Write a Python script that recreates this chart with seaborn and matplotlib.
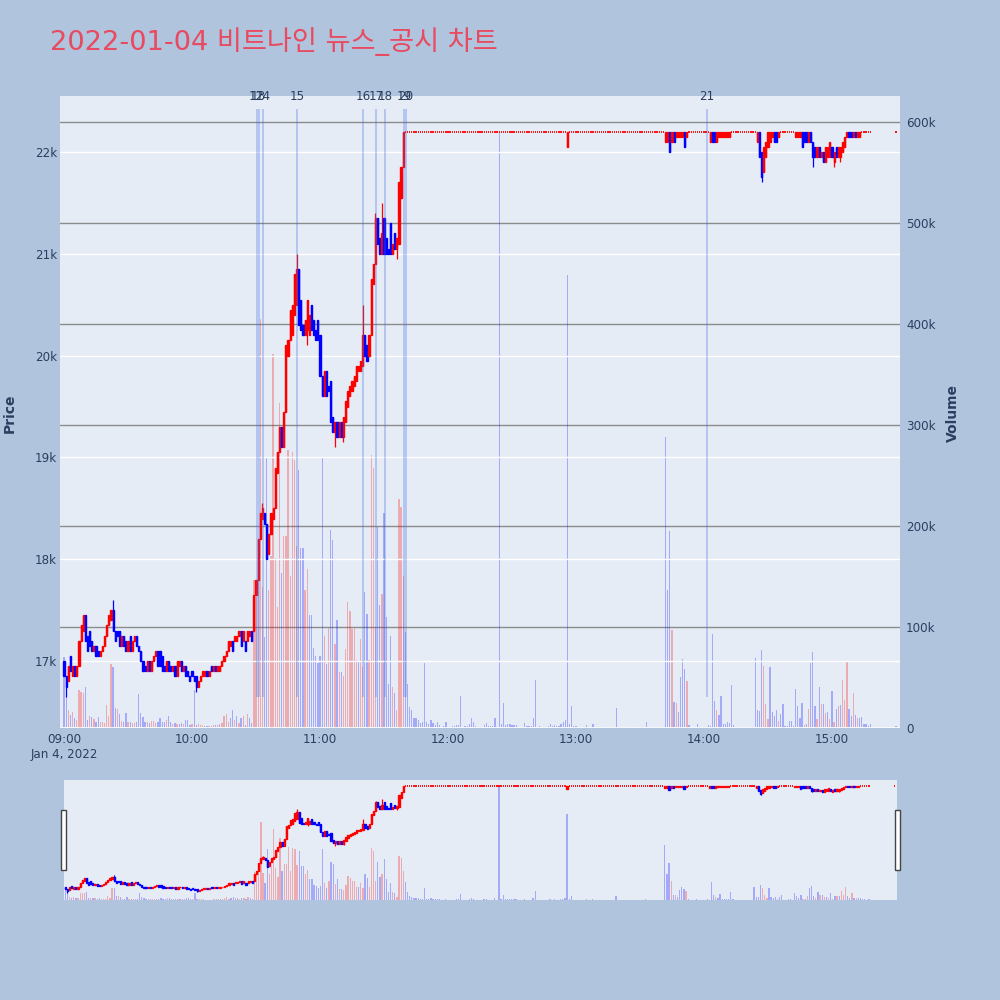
import numpy as np
import pandas as pd
import matplotlib
matplotlib.use("Agg")
import matplotlib.pyplot as plt
import matplotlib.transforms as mtransforms
from matplotlib.patches import Rectangle
import seaborn as sns

TITLE = "2022-01-04 비트나인 뉴스_공시 차트"
FIG_BG = "#B0C4DE"
PLOT_BG = "#E5ECF6"
UP = "#FF0000"
DOWN = "#0000FF"
TEXT = "#2a3f5f"

PREV_CLOSE = 17100
FLAT = 22200

# minutes after 09:00 (one candle per minute, closing auction at 15:30)
minutes = list(range(0, 379)) + [390]

open_am = [
    17000, 16850, 16800, 17050, 16850, 16950, 16850, 16950, 17200, 17300,
    17450, 17250, 17300, 17200, 17100, 17150, 17100, 17050, 17100, 17150,
    17250, 17350, 17400, 17500, 17300, 17300, 17300, 17150, 17250, 17200,
    17100, 17250, 17100, 17200, 17250, 17150, 17100, 17000, 16950, 16900,
    17000, 16900, 17000, 17050, 17100, 17100, 17050, 16950, 16900, 17000,
    16950, 16900, 16950, 16850, 16950, 17000, 16900, 16950, 16900, 16850,
    16900, 16850, 16850, 16750, 16800, 16850, 16850, 16900, 16850, 16950,
    16900, 16950, 16900, 16900, 16950, 17000, 17050, 17100, 17150, 17200,
    17200, 17200, 17250, 17300, 17200, 17200, 17200, 17250, 17300, 17300,
    17650, 17800, 18200, 18400, 18450, 18350, 18050, 18250, 18400, 18500,
    18850, 19050, 19300, 19100, 19450, 20000, 20150, 20200, 20400, 20500,
    20850, 20550, 20300, 20200, 20250, 20200, 20500, 20350, 20250, 20350,
    20200, 19800, 19600, 19850, 19700, 19750, 19400, 19250, 19350, 19200,
    19350, 19200, 19350, 19500, 19600, 19650, 19700, 19750, 19850, 19850,
    19900, 20200, 20100, 20000, 20200, 20700, 20900, 21350, 21150, 21000,
    21350, 21150, 21050, 21300, 21000, 21200, 21050, 21100, 21550, 21850,
]
close_am = [
    16850, 16750, 16950, 16900, 16950, 16850, 16950, 17200, 17350, 17450,
    17200, 17100, 17150, 17100, 17150, 17050, 17050, 17100, 17150, 17250,
    17350, 17450, 17500, 17300, 17200, 17250, 17150, 17250, 17150, 17100,
    17200, 17100, 17200, 17250, 17150, 17100, 17000, 16900, 16900, 17000,
    16900, 17000, 17050, 17100, 16950, 16950, 16900, 16900, 17000, 16900,
    16900, 16950, 16850, 17000, 17000, 16900, 16950, 16850, 16850, 16800,
    16850, 16800, 16750, 16800, 16850, 16900, 16900, 16850, 16900, 16900,
    16950, 16900, 16950, 16950, 17000, 17050, 17100, 17200, 17200, 17100,
    17250, 17250, 17300, 17150, 17300, 17100, 17300, 17300, 17200, 17650,
    17800, 18200, 18450, 18500, 18350, 18000, 18250, 18450, 18500, 18900,
    19050, 19300, 19100, 19450, 20100, 20150, 20450, 20500, 20800, 20850,
    20300, 20250, 20200, 20350, 20550, 20400, 20250, 20200, 20150, 20150,
    19800, 19600, 19850, 19600, 19650, 19350, 19250, 19350, 19200, 19350,
    19200, 19400, 19550, 19650, 19700, 19750, 19800, 19900, 19900, 19950,
    20200, 20000, 19950, 20200, 20750, 20900, 21350, 21100, 21000, 21200,
    21000, 21000, 21000, 21000, 21100, 21050, 21150, 21700, 21850, 22200,
]

# afternoon: mostly at the upper limit, with a few dips
open_pm = ([FLAT] * 76 + [22050] + [FLAT] * 45
           + [22100, 22100, 22200, 22100, 22200, 22150, 22150, 22150, 22150, 22200, 22150]
           + [FLAT] * 10
           + [22100, 22200, 22200, 22100, 22150, 22150, 22150, 22150, 22150, 22150]
           + [FLAT] * 12
           + [22100, 22200, 22000, 21800, 21950, 22050, 22100, 22150, 22200, 22200, 22150]
           + [FLAT] * 7
           + [22150, 22150, 22150, 22200, 22200, 22200, 22100, 22200, 22100, 22050,
              21950, 22050, 21950, 22000, 21900, 21950, 21950, 22050, 21900, 22050,
              21950, 21950, 22000, 22050, 22150, 22200, 22200, 22150, 22200, 22150, 22150]
           + [FLAT] * 5 + [FLAT])
close_pm = ([FLAT] * 76 + [22200] + [FLAT] * 45
            + [22200, 22200, 22000, 22200, 22100, 22200, 22200, 22200, 22200, 22050, 22200]
            + [FLAT] * 10
            + [22200, 22100, 22100, 22200, 22200, 22200, 22200, 22200, 22200, 22200]
            + [FLAT] * 12
            + [22200, 21950, 21750, 22050, 22100, 22200, 22200, 22200, 22100, 22100, 22200]
            + [FLAT] * 7
            + [22200, 22200, 22200, 22050, 22100, 22100, 22200, 22100, 21950, 21950,
               22050, 21950, 22000, 21900, 22050, 22050, 22100, 21950, 22000, 21950,
               22050, 22050, 22100, 22150, 22200, 22150, 22150, 22200, 22150, 22200, 22200]
            + [FLAT] * 5 + [FLAT])

# wick extremes that reach past the candle body
wick_high = {23: 17600, 93: 18550, 109: 21000, 140: 20500, 146: 21400, 149: 21500}
wick_low = {1: 16650, 62: 16700, 114: 20100, 127: 19100, 131: 19150, 156: 20950,
            327: 21700, 351: 21850, 361: 21850, 364: 21900}

volume_am_k = [
    70, 45, 18, 13, 16, 10, 8, 38, 36, 35,
    41, 8, 12, 11, 9, 6, 11, 6, 6, 5,
    23, 12, 63, 60, 20, 19, 14, 7, 6, 15,
    6, 6, 5, 5, 6, 34, 15, 11, 6, 6,
    5, 7, 7, 5, 6, 10, 6, 6, 8, 12,
    6, 4, 5, 4, 4, 5, 4, 8, 8, 3,
    4, 38, 3, 4, 3, 3, 2, 2, 2, 2,
    3, 3, 3, 4, 5, 12, 14, 6, 10, 18,
    8, 12, 5, 10, 12, 3, 14, 10, 5, 147,
    130, 180, 405, 140, 90, 267, 137, 170, 370, 168,
    120, 322, 153, 190, 190, 275, 150, 273, 265, 180,
    255, 178, 178, 137, 157, 112, 112, 79, 71, 64,
    71, 267, 91, 63, 99, 196, 186, 83, 107, 55,
    55, 51, 78, 125, 116, 98, 99, 67, 66, 88,
    60, 135, 113, 67, 270, 257, 100, 199, 122, 133,
    213, 110, 44, 91, 41, 35, 18, 227, 219, 150,
]
volume_pm_k = [
    95, 44, 21, 18, 10, 10, 8, 5, 6, 64,
    6, 4, 8, 5, 3, 6, 3, 1, 2, 6,
    1, 1, 2, 2, 3, 3, 32, 1, 2, 2,
    4, 10, 6, 2, 1, 1, 1, 3, 5, 2,
    2, 2, 10, 1, 590, 4, 25, 3, 4, 4,
    3, 3, 3, 1, 1, 1, 5, 2, 2, 2,
    10, 48, 1, 2, 1, 1, 1, 2, 4, 2,
    3, 2, 2, 4, 6, 8, 448, 4, 22, 2,
    2, 1, 1, 1, 1, 3, 1, 1, 4, 1,
    1, 1, 1, 1, 1, 1, 1, 1, 1, 20,
    1, 1, 1, 1, 1, 1, 1, 1, 1, 1,
    1, 1, 1, 6, 1, 1, 1, 1, 1, 1,
    1, 1, 288, 137, 195, 97, 26, 25, 16, 50,
    68, 58, 47, 3, 1, 1, 1, 4, 1, 1,
    1, 1, 3, 2, 93, 27, 18, 13, 32, 4,
    4, 6, 5, 43, 3, 1, 1, 1, 1, 1,
    1, 1, 1, 1, 69, 18, 17, 77, 61, 24,
    9, 60, 16, 12, 18, 7, 14, 24, 2, 2,
    7, 7, 2, 39, 22, 10, 25, 3, 4, 19,
    64, 75, 22, 9, 41, 24, 24, 15, 16, 9,
    37, 6, 19, 22, 23, 48, 28, 66, 19, 12,
    35, 13, 10, 10, 11, 4, 4, 2, 4,
    2,
]

# news / disclosure events (minutes after 09:00)
event_minutes = [90.3, 91.2, 93.4, 109.2, 140.2, 146.3, 150.5, 159.4, 160.3, 301.4]
event_labels = ["12", "13", "14", "15", "16", "17", "18", "19", "20", "21"]

x_ticks = [0, 60, 120, 180, 240, 300, 360]
x_ticklabels = ["09:00\nJan 4, 2022", "10:00", "11:00", "12:00", "13:00", "14:00", "15:00"]
price_ticks = [17000, 18000, 19000, 20000, 21000, 22000]
volume_ticks = [0, 100000, 200000, 300000, 400000, 500000, 600000]


def main():
    sns.set_theme(style="darkgrid")
    plt.rcParams["font.family"] = ["DejaVu Sans", "Noto Sans CJK KR"]

    opens = np.array(open_am + open_pm, dtype=float)
    closes = np.array(close_am + close_pm, dtype=float)
    x = np.array(minutes)
    highs = np.maximum(opens, closes)
    lows = np.minimum(opens, closes)
    for i, m in enumerate(minutes):
        if m in wick_high:
            highs[i] = wick_high[m]
        if m in wick_low:
            lows[i] = wick_low[m]
    volume = np.array(volume_am_k + volume_pm_k, dtype=float) * 1000

    prev = np.concatenate([[PREV_CLOSE], closes[:-1]])
    vol_dir = np.where(closes > prev, "up", "down")

    # plotly-like candle direction: doji inherits from previous close / direction
    candle_up = []
    last = True
    for o, c, p in zip(opens, closes, prev):
        if c > o:
            last = True
        elif c < o:
            last = False
        elif c > p:
            last = True
        elif c < p:
            last = False
        candle_up.append(last)
    candle_colors = np.array([UP if u else DOWN for u in candle_up])
    body_lo = np.minimum(opens, closes)
    body_h = np.abs(closes - opens)
    is_doji = body_h == 0

    vol_df = pd.DataFrame({"minute": x, "volume": volume, "dir": vol_dir})

    def draw_volume(ax):
        sns.histplot(data=vol_df, x="minute", weights="volume", hue="dir",
                     hue_order=["up", "down"], palette={"up": UP, "down": DOWN},
                     discrete=True, shrink=0.6, alpha=0.28, linewidth=0,
                     legend=False, ax=ax)

    def draw_candles(ax):
        ax.vlines(x, lows, highs, colors=candle_colors, linewidth=0.9, zorder=3)
        ax.bar(x[~is_doji], body_h[~is_doji], bottom=body_lo[~is_doji], width=0.55,
               color=candle_colors[~is_doji], edgecolor=candle_colors[~is_doji],
               linewidth=1.0, zorder=4)
        # flat candles (open == close) are short horizontal dashes
        ax.hlines(closes[is_doji], x[is_doji] - 0.3, x[is_doji] + 0.3,
                  colors=candle_colors[is_doji], linewidth=1.3, zorder=4)

    fig = plt.figure(figsize=(10, 10), dpi=100)
    fig.patch.set_facecolor(FIG_BG)

    # ---- main chart ----
    ax_vol = fig.add_axes([0.06, 0.272, 0.84, 0.632])
    ax_vol.set_facecolor(PLOT_BG)
    draw_volume(ax_vol)
    ax_price = ax_vol.twinx()

    ax_vol.set_ylim(0, 625700)
    ax_vol.set_xlim(-1.9, 391.9)
    ax_vol.yaxis.tick_right()
    ax_vol.set_yticks(volume_ticks)
    ax_vol.set_yticklabels(["0" if v == 0 else f"{v // 1000}k" for v in volume_ticks])
    ax_vol.grid(False)
    ax_vol.yaxis.grid(True, color="#8c8c8c", linewidth=1.0)
    ax_vol.axhline(0, color="white", linewidth=2, zorder=1)
    ax_vol.set_xticks(x_ticks)
    ax_vol.set_xticklabels(x_ticklabels)
    ax_vol.set_xlabel("")
    ax_vol.set_ylabel("")
    ax_vol.tick_params(axis="both", length=0, labelsize=8.6, colors=TEXT)
    ax_vol.tick_params(axis="x", pad=3.5)
    ax_vol.tick_params(axis="y", pad=4.3)
    for s in ax_vol.spines.values():
        s.set_visible(False)

    ax_price.patch.set_visible(False)
    ax_price.yaxis.tick_left()
    ax_price.set_ylim(16343, 22549)
    ax_price.set_yticks(price_ticks)
    ax_price.set_yticklabels([f"{p // 1000}k" for p in price_ticks])
    ax_price.grid(False)
    ax_price.yaxis.grid(True, color="white", linewidth=1.0)
    ax_price.tick_params(axis="y", length=0, labelsize=8.6, colors=TEXT, pad=2.2)
    for s in ax_price.spines.values():
        s.set_visible(False)

    draw_candles(ax_price)

    top_line = highs.max() * 1.01
    ax_price.vlines(event_minutes, lows.min(), top_line, colors="#4169E1",
                    alpha=0.3, linewidth=1.4, zorder=5)
    trans = mtransforms.blended_transform_factory(ax_price.transData, ax_price.transAxes)
    for m, lab in zip(event_minutes, event_labels):
        ax_price.text(m, 1.0, lab, transform=trans, ha="center", va="center",
                      fontsize=8.6, color=TEXT, clip_on=False)

    fig.text(0.010, 0.587, "Price", rotation=90, ha="center", va="center",
             fontsize=10, fontweight="bold", color=TEXT)
    fig.text(0.953, 0.587, "Volume", rotation=90, ha="center", va="center",
             fontsize=10, fontweight="bold", color=TEXT)
    fig.text(0.05, 0.958, TITLE, ha="left", va="center", fontsize=19.6,
             color="#E84A5F")

    # ---- range slider ----
    ax_s = fig.add_axes([0.064, 0.10, 0.833, 0.12])
    ax_s.set_facecolor(PLOT_BG)
    draw_volume(ax_s)
    ax_sp = ax_s.twinx()
    ax_s.set_ylim(0, 625700)
    ax_s.set_xlim(-0.6, 391.2)
    ax_s.grid(False)
    ax_s.set_xticks([])
    ax_s.set_yticks([])
    ax_s.set_xlabel("")
    ax_s.set_ylabel("")
    for s in ax_s.spines.values():
        s.set_visible(False)
    ax_sp.patch.set_visible(False)
    ax_sp.set_ylim(16305, 22494)
    ax_sp.grid(False)
    ax_sp.set_yticks([])
    for s in ax_sp.spines.values():
        s.set_visible(False)
    draw_candles(ax_sp)

    for hx in (0.061, 0.895):
        fig.patches.append(Rectangle((hx, 0.130), 0.005, 0.060, transform=fig.transFigure,
                                     facecolor="white", edgecolor="#444444",
                                     linewidth=1.0, zorder=10))

    fig.savefig("out.png", dpi=100, facecolor=fig.get_facecolor())
    plt.close(fig)


if __name__ == "__main__":
    main()
